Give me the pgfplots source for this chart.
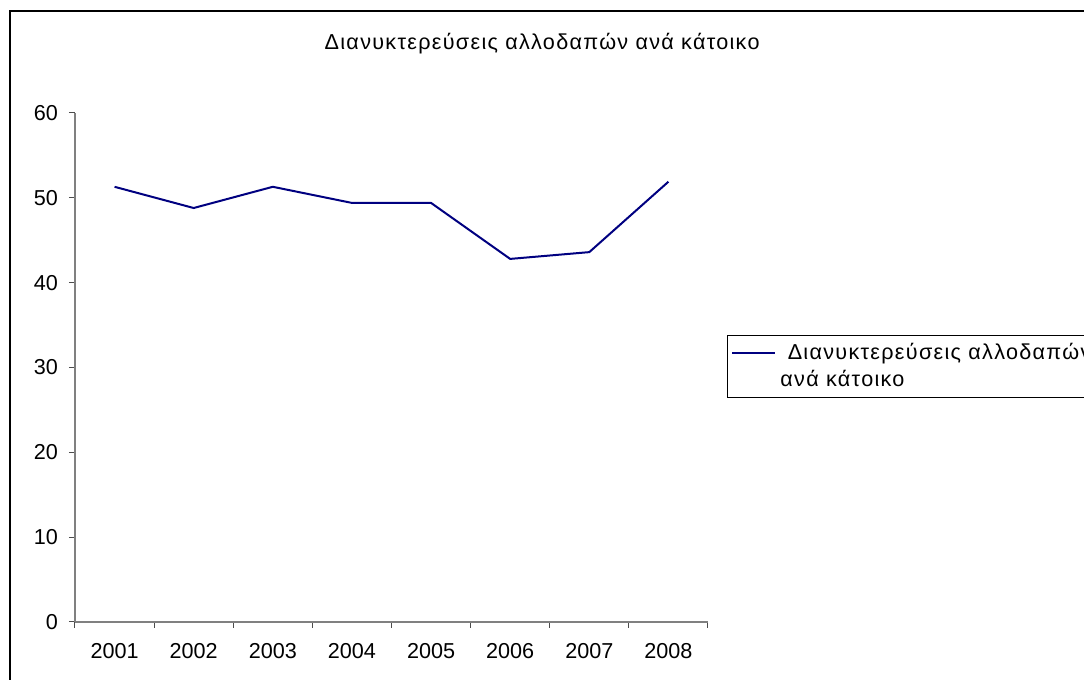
\documentclass[border=0pt]{standalone}
\usepackage{fontspec}
\setmainfont{Liberation Sans}
\newfontfamily\spaced[LetterSpace=6]{Liberation Sans}
\usepackage{pgfplots}
\pgfplotsset{compat=1.18}
\definecolor{excelnavy}{RGB}{0,0,128}
\definecolor{axisgray}{RGB}{128,128,128}
\begin{document}
\begin{tikzpicture}[x=1pt,y=1pt]
\useasboundingbox (0pt,0pt) rectangle (542pt,340pt);
\clip (0pt,0pt) rectangle (542pt,340pt);
% outer chart frame, cut off at right and bottom
\draw[line width=0.8pt] (5pt,-10pt) -- (5pt,334.5pt) -- (560pt,334.5pt);
\begin{axis}[
  at={(37.5pt,29pt)}, anchor=south west,
  scale only axis, width=316.5pt, height=254.5pt,
  xmin=-0.5, xmax=7.5, ymin=0, ymax=60,
  axis lines*=left,
  axis line style={draw=axisgray, line width=0.6pt},
  font=\fontsize{10.8}{13}\selectfont,
  /pgf/number format/assume math mode=true,
  tick align=outside,
  major tick length=3pt,
  tick style={draw=black!70, line width=0.5pt},
  ytick={0,10,...,60},
  yticklabel style={xshift=-2pt},
  xtick={-0.5,0.5,...,7.5},
  xticklabels={},
  extra x ticks={0,1,2,3,4,5,6,7},
  extra x tick labels={2001,2002,2003,2004,2005,2006,2007,2008},
  extra x tick style={major tick length=0pt},
  xticklabel style={yshift=-7pt},
  title={\spaced Διανυκτερεύσεις αλλοδαπών ανά κάτοικο},
  title style={at={(0.738,1.112)}, anchor=center, font=\fontsize{10.8}{13}\selectfont},
  legend style={at={(1.030,0.564)}, anchor=north west, draw=black, line width=0.5pt,
    font=\fontsize{10.8}{13}\selectfont, cells={anchor=west}, row sep=0pt, inner sep=2pt},
  legend image code/.code={\draw[#1] (0pt,0pt) -- (21.5pt,0pt);},
]
\addplot[excelnavy, line width=1pt] coordinates {
  (0,51.3) (1,48.8) (2,51.3) (3,49.4) (4,49.4) (5,42.8) (6,43.6) (7,51.9)
};
\addlegendentry{\spaced\ Διανυκτερεύσεις αλλοδαπών}
\addlegendimage{empty legend}
\addlegendentry{\spaced ανά κάτοικο}
\end{axis}
\end{tikzpicture}
\end{document}
